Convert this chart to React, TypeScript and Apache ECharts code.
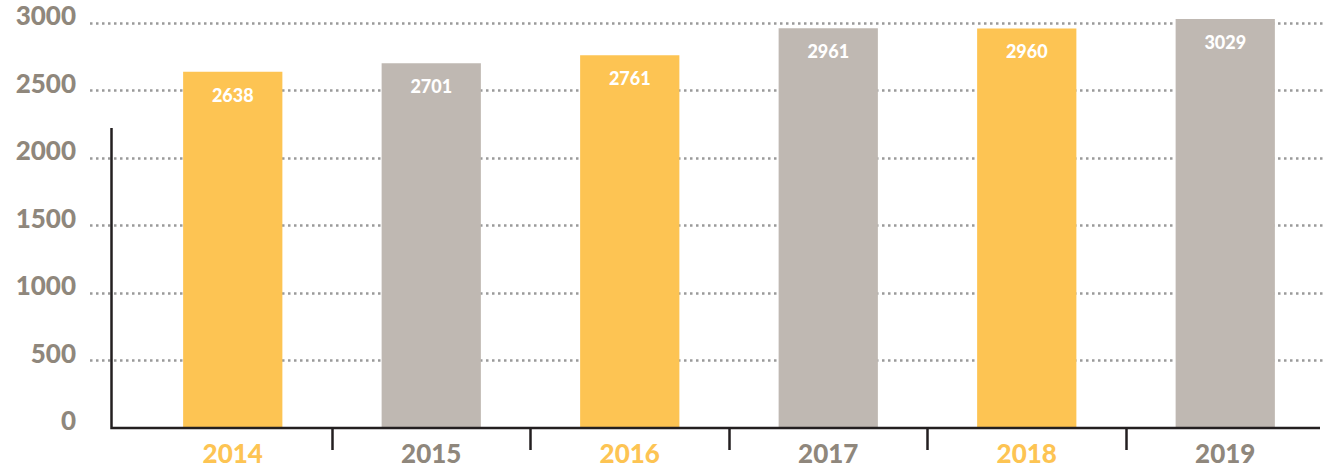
import React, { useEffect, useRef } from "react";
import * as echarts from "echarts";

const CATEGORIES = ["2014", "2015", "2016", "2017", "2018", "2019"];
const VALUES = [2638, 2701, 2761, 2961, 2960, 3029];
const Y_TICKS = [0, 500, 1000, 1500, 2000, 2500, 3000];

const YELLOW = "#fdc453";
const GRAY_BAR = "#bfb8b2";
const GRAY_TEXT = "#8f877c";
const DARK = "#231f20";
const BAR_COLORS = [YELLOW, GRAY_BAR];
const LABEL_COLORS = [YELLOW, GRAY_TEXT];
const FONT = "Lato, 'Open Sans', sans-serif";
const HEAVY = 900;

const W = 1328;
const H = 470;
const PLOT_TOP = 23;
const PLOT_BOTTOM = 428;
const PLOT_LEFT = 133.5;
const PLOT_RIGHT = 1324.5;
const BAND = (PLOT_RIGHT - PLOT_LEFT) / CATEGORIES.length;

export default function App() {
  const ref = useRef<HTMLDivElement>(null);
  useEffect(() => {
    if (!ref.current) return;
    const chart = echarts.init(ref.current, null, { renderer: "svg" });
    const yMin = Y_TICKS[0];
    const yMax = Y_TICKS[Y_TICKS.length - 1];
    const yInt = Y_TICKS[1] - Y_TICKS[0];
    const rich: any = {};
    LABEL_COLORS.forEach((c, i) => {
      rich["c" + i] = { color: c, fontSize: 26, fontWeight: HEAVY, fontFamily: FONT };
    });
    chart.setOption({
      animation: false,
      backgroundColor: "#ffffff",
      grid: [
        { left: PLOT_LEFT, right: W - PLOT_RIGHT, top: PLOT_TOP, bottom: H - PLOT_BOTTOM },
        { left: 90, right: 3, top: PLOT_TOP, bottom: H - PLOT_BOTTOM },
        { left: PLOT_LEFT + BAND, width: BAND * (CATEGORIES.length - 2), top: PLOT_BOTTOM - 1, height: 1 },
      ],
      xAxis: [
        {
          type: "category",
          gridIndex: 0,
          data: CATEGORIES,
          axisLine: { show: false },
          axisTick: { show: false },
          axisLabel: {
            margin: 12,
            fontSize: 26,
            fontWeight: HEAVY,
            fontFamily: FONT,
            formatter: (v: string, i: number) => `{c${i % 2}|${v}}`,
            rich,
          },
        },
        { type: "value", gridIndex: 1, show: false },
        {
          type: "value",
          gridIndex: 2,
          min: 1,
          max: CATEGORIES.length - 1,
          interval: 1,
          axisLine: { show: false },
          axisTick: { show: true, length: 22, lineStyle: { color: DARK, width: 2.5 } },
          axisLabel: { show: false },
          splitLine: { show: false },
        },
      ],
      yAxis: [
        {
          type: "value",
          gridIndex: 0,
          min: yMin,
          max: yMax,
          interval: yInt,
          show: false,
          splitLine: { show: false },
        },
        {
          type: "value",
          gridIndex: 1,
          min: yMin,
          max: yMax,
          interval: yInt,
          axisLine: { show: false },
          axisTick: { show: false },
          splitLine: {
            show: true,
            showMinLine: false,
            lineStyle: { color: "#9a9a9a", width: 2.5, type: [2.5, 3.5] },
          },
          axisLabel: {
            margin: 14,
            color: GRAY_TEXT,
            fontSize: 26,
            fontWeight: HEAVY,
            fontFamily: FONT,
            verticalAlign: "bottom",
            lineHeight: 16,
            formatter: (v: number) => String(v),
          },
        },
        { type: "value", gridIndex: 2, show: false },
      ],
      graphic: [
        {
          type: "polyline",
          z: 100,
          shape: {
            points: [
              [111.5, 128],
              [111.5, PLOT_BOTTOM],
              [1320, PLOT_BOTTOM],
            ],
          },
          style: { stroke: DARK, lineWidth: 2.5, fill: null },
        },
      ],
      series: [
        {
          type: "bar",
          xAxisIndex: 0,
          yAxisIndex: 0,
          barWidth: "50%",
          clip: false,
          data: VALUES.map((v, i) => ({ value: v, itemStyle: { color: BAR_COLORS[i % 2] } })),
          label: {
            show: true,
            position: "insideTop",
            distance: 14,
            color: "#ffffff",
            fontSize: 18,
            fontWeight: HEAVY,
            fontFamily: FONT,
          },
        },
      ],
    });
    return () => chart.dispose();
  }, []);
  return <div ref={ref} style={{ position: "absolute", left: 0, top: 0, width: W, height: H }} />;
}
